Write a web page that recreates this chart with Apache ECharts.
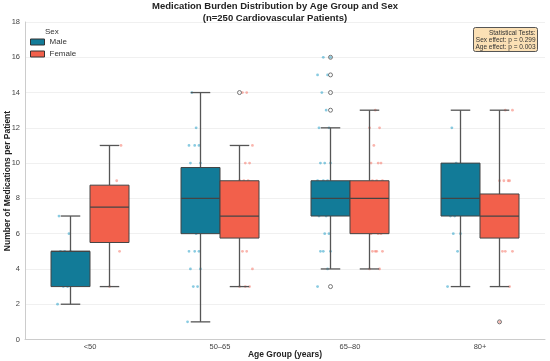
<!DOCTYPE html>
<html><head><meta charset="utf-8">
<script src="https://cdn.jsdelivr.net/npm/echarts@6/dist/echarts.min.js"></script>
<style>html,body{margin:0;padding:0;background:#fff}#c{width:550px;height:361px}</style>
</head><body><div id="c"></div>
<script>
// ---- data ----
const categories = ['<50', '50–65', '65–80', '80+'];
// [min whisker, Q1, median, Q3, max whisker]
const maleBox = [[2, 3, 5, 5, 7], [1, 6, 8, 9.75, 14], [4, 7, 8, 9, 12], [3, 7, 8, 10, 13]];
const femaleBox = [[3, 5.5, 7.5, 8.75, 11], [3, 5.75, 7, 9, 11], [4, 6, 8, 9, 13], [3, 5.75, 7, 8.25, 13]];
// outliers: [categoryIndex, value]
const maleOutliers = [[2, 16], [2, 15], [2, 14], [2, 13], [2, 3]];
const femaleOutliers = [[1, 14], [3, 1]];
// individual patients (strip points) per age group
const malePoints = [
  [2, 3, 3, 5, 5, 5, 6, 7],
  [1, 3, 3, 4, 4, 5, 5, 5, 6, 7, 8, 8, 9, 10, 10, 11, 11, 11, 12, 14],
  [3, 4, 5, 5, 5, 6, 6, 7, 7, 8, 9, 9, 9, 10, 10, 10, 12, 12, 13, 14, 15, 15, 16, 16],
  [3, 5, 6, 6, 7, 7, 8, 9, 10, 12]
];
const femalePoints = [
  [3, 5, 6, 7, 8, 9, 11],
  [3, 3, 3, 4, 5, 5, 7, 8, 9, 9, 9, 10, 10, 11, 14, 14],
  [4, 4, 5, 5, 5, 5, 6, 6, 6, 7, 7, 8, 8, 9, 9, 9, 10, 10, 10, 11, 12, 12, 13],
  [1, 3, 5, 5, 5, 6, 7, 8, 9, 9, 9, 9, 13, 13]
];
const yTicks = [0, 2, 4, 6, 8, 10, 12, 14, 16, 18];

// ---- styling ----
const MALE = '#127b98', FEMALE = '#f2604b';
const MALE_DOT = 'rgba(40,160,200,0.55)', FEMALE_DOT = 'rgba(245,120,105,0.55)';
const FONT = 'Liberation Sans, Arial, sans-serif';
const jitterPattern = [-0.45, 0.25, -0.05, 0.45, -0.25, 0.05, 0.35, -0.35, 0.15, -0.15];

function boxData(arr) { return arr.map((s, i) => [i].concat(s)); }
function stripData(groups) {
  const out = [];
  groups.forEach((g, i) => g.forEach((v, k) => out.push([i, v, jitterPattern[k % jitterPattern.length]])));
  return out;
}

function makeBoxRender(side, fill) {
  return function (params, api) {
    const ci = api.value(0);
    const band = api.size([1, 0])[0];
    const cx = api.coord([ci, 0])[0] + side * 0.15 * band;
    const w = 0.3 * band;
    const y = v => api.coord([ci, v])[1];
    const yMin = y(api.value(1)), yQ1 = y(api.value(2)), yMed = y(api.value(3)), yQ3 = y(api.value(4)), yMax = y(api.value(5));
    const ls = { stroke: '#555', lineWidth: 1.3 };
    return {
      type: 'group', children: [
        { type: 'line', shape: { x1: cx, y1: yQ3, x2: cx, y2: yMax }, style: ls },
        { type: 'line', shape: { x1: cx, y1: yQ1, x2: cx, y2: yMin }, style: ls },
        { type: 'line', shape: { x1: cx - w / 4, y1: yMax, x2: cx + w / 4, y2: yMax }, style: ls },
        { type: 'line', shape: { x1: cx - w / 4, y1: yMin, x2: cx + w / 4, y2: yMin }, style: ls },
        { type: 'rect', shape: { x: cx - w / 2, y: yQ3, width: w, height: yQ1 - yQ3 }, style: { fill: fill, stroke: '#444', lineWidth: 1 } },
        { type: 'line', shape: { x1: cx - w / 2, y1: yMed, x2: cx + w / 2, y2: yMed }, style: { stroke: '#444', lineWidth: 1.3 } }
      ]
    };
  };
}
function makeOutlierRender(side) {
  return function (params, api) {
    const ci = api.value(0);
    const band = api.size([1, 0])[0];
    const p = api.coord([ci, api.value(1)]);
    return { type: 'circle', shape: { cx: p[0] + side * 0.15 * band, cy: p[1], r: 2 }, style: { fill: 'none', stroke: '#666', lineWidth: 0.9 } };
  };
}
function makeStripRender(side, color) {
  return function (params, api) {
    const ci = api.value(0);
    const band = api.size([1, 0])[0];
    const p = api.coord([ci, api.value(1)]);
    const x = p[0] + side * 0.2 * band + api.value(2) * 0.11 * band;
    return { type: 'circle', shape: { cx: x, cy: p[1], r: 1.4 }, style: { fill: color } };
  };
}

const chart = echarts.init(document.getElementById('c'), null, { renderer: 'canvas' });
chart.setOption({
  animation: false,
  backgroundColor: '#fff',
  textStyle: { fontFamily: FONT },
  title: {
    text: 'Medication Burden Distribution by Age Group and Sex\n(n=250 Cardiovascular Patients)',
    left: 'center', top: 0, padding: 0,
    textStyle: { fontSize: 9.5, fontWeight: 'bold', color: '#222', lineHeight: 12.5, fontFamily: FONT }
  },
  grid: { left: 25, right: 5, top: 22, bottom: 21.5, containLabel: false, outerBoundsMode: 'none' },
  legend: {
    orient: 'vertical', left: 30, top: 38, itemWidth: 14, itemHeight: 6, itemGap: 4, padding: 0,
    textStyle: { fontSize: 8, color: '#333', fontFamily: FONT },
    data: [
      { name: 'Male', icon: 'rect', itemStyle: { color: MALE, borderColor: '#333', borderWidth: 1 } },
      { name: 'Female', icon: 'rect', itemStyle: { color: FEMALE, borderColor: '#333', borderWidth: 1 } }
    ]
  },
  xAxis: {
    type: 'category', data: categories,
    axisLine: { lineStyle: { color: '#ccc' } }, axisTick: { show: false },
    axisLabel: { fontSize: 7.5, color: '#444', margin: 3 },
    splitLine: { show: false }
  },
  yAxis: {
    type: 'value', min: 0, max: 18, interval: 2,
    axisLine: { show: true, lineStyle: { color: '#ccc' } }, axisTick: { show: false },
    axisLabel: { fontSize: 7.5, color: '#444', margin: 5, formatter: v => yTicks.includes(v) ? String(v) : '' },
    splitLine: { lineStyle: { color: '#ececec', width: 0.8 } }
  },
  graphic: [
    { type: 'text', left: 45, top: 28, style: { text: 'Sex', fontSize: 8, fill: '#333', fontFamily: FONT } },
    { type: 'text', x: 285, y: 355, style: { text: 'Age Group (years)', align: 'center', verticalAlign: 'middle', fontSize: 8.5, fontWeight: 'bold', fill: '#222', fontFamily: FONT } },
    { type: 'text', x: 7.5, y: 181, rotation: Math.PI / 2, style: { text: 'Number of Medications per Patient', align: 'center', verticalAlign: 'middle', fontSize: 8.5, fontWeight: 'bold', fill: '#222', fontFamily: FONT } },
    {
      type: 'group', right: 12, top: 27, children: [
        { type: 'rect', shape: { x: 0, y: 0, width: 64, height: 24, r: 2 }, style: { fill: '#fbe0b5', stroke: '#555', lineWidth: 1 } },
        { type: 'text', style: { x: 62, y: 2, text: 'Statistical Tests:\nSex effect: p = 0.299\nAge effect: p = 0.003', align: 'right', fontSize: 6.5, lineHeight: 7, fill: '#333', fontFamily: FONT } }
      ]
    }
  ],
  series: [
    { type: 'custom', name: 'maleStrip', data: stripData(malePoints), renderItem: makeStripRender(-1, MALE_DOT), z: 1, silent: true },
    { type: 'custom', name: 'femaleStrip', data: stripData(femalePoints), renderItem: makeStripRender(1, FEMALE_DOT), z: 1, silent: true },
    { type: 'custom', name: 'Male', data: boxData(maleBox), renderItem: makeBoxRender(-1, MALE), itemStyle: { color: MALE }, z: 2 },
    { type: 'custom', name: 'Female', data: boxData(femaleBox), renderItem: makeBoxRender(1, FEMALE), itemStyle: { color: FEMALE }, z: 2 },
    { type: 'custom', name: 'maleOut', data: maleOutliers, renderItem: makeOutlierRender(-1), z: 3, silent: true },
    { type: 'custom', name: 'femaleOut', data: femaleOutliers, renderItem: makeOutlierRender(1), z: 3, silent: true }
  ]
});
</script></body></html>
